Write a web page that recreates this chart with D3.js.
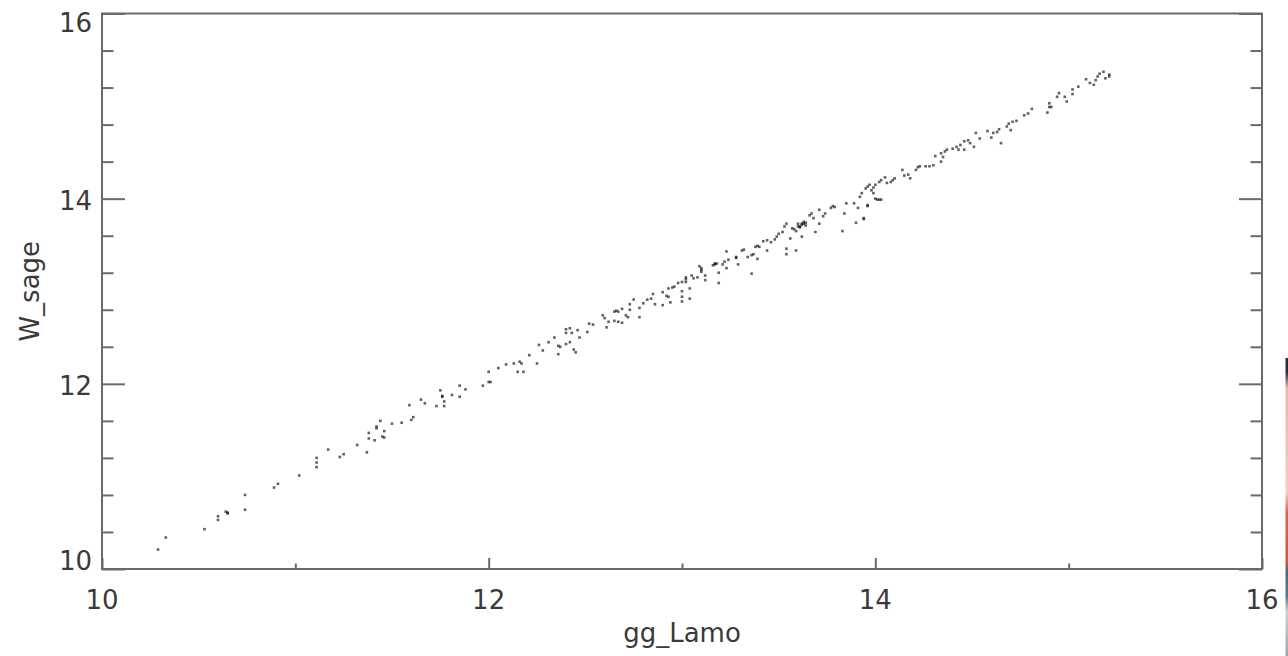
<!DOCTYPE html>
<html>
<head>
<meta charset="utf-8">
<script src="https://cdn.jsdelivr.net/npm/d3@7"></script>
<style>
  html, body { margin: 0; padding: 0; background: #fff; }
  svg { display: block; }
</style>
</head>
<body>
<script>
// values (gg_Lamo on x, W_sage on y)
const ggLamo = [
  10.29, 10.33, 10.53, 10.60, 10.60, 10.65, 10.65, 10.64, 10.74, 10.74,
  10.89, 10.91, 11.02, 11.11, 11.11, 11.11, 11.17, 11.23, 11.25, 11.32,
  11.37, 11.38, 11.38, 11.41, 11.42, 11.42, 11.44, 11.45, 11.46, 11.46,
  11.50, 11.55, 11.59, 11.60, 11.61, 11.65, 11.67, 11.73, 11.75, 11.76,
  11.76, 11.77, 11.77, 11.81, 11.85, 11.85, 11.88, 11.97, 12.00, 12.00,
  12.05, 12.09,
  12.01, 12.13, 12.16, 12.17, 12.15, 12.18, 12.21, 12.25, 12.26, 12.28,
  12.31, 12.34, 12.36, 12.36, 12.37, 12.40, 12.42, 12.40, 12.42, 12.40,
  12.43, 12.46, 12.44, 12.45, 12.47, 12.51, 12.52, 12.54, 12.59, 12.60,
  12.61, 12.62, 12.65, 12.65, 12.66, 12.67, 12.67, 12.69, 12.69, 12.71,
  12.72, 12.73, 12.73, 12.75, 12.78, 12.78, 12.80, 12.82, 12.84, 12.85,
  12.86, 12.90, 12.90, 12.92, 12.93, 12.93, 12.95, 12.96, 12.94, 12.98,
  13.00, 13.00, 13.00, 13.00, 13.02, 13.02, 13.02, 13.04, 13.04, 13.05,
  13.06, 13.08, 13.09, 13.10, 13.10, 13.10, 13.12, 13.12, 13.16, 13.17,
  13.18, 13.17, 13.19, 13.19, 13.21, 13.22, 13.24, 13.23, 13.23, 13.28,
  13.28, 13.29, 13.31, 13.32, 13.34, 13.36, 13.37, 13.36, 13.38, 13.39,
  13.40, 13.39, 13.42, 13.44, 13.44, 13.46, 13.48, 13.49, 13.50, 13.52,
  13.53, 13.54, 13.54, 13.54, 13.56, 13.57, 13.58, 13.59, 13.59, 13.60,
  13.61, 13.62, 13.63, 13.64, 13.62, 13.61, 13.62, 13.63, 13.64, 13.60,
  13.66, 13.67, 13.68, 13.69, 13.71, 13.71, 13.73, 13.74, 13.77, 13.78,
  13.79, 13.83, 13.84, 13.85, 13.89, 13.90, 13.91, 13.94, 13.96, 14.01,
  14.03,
  13.94, 13.92, 13.93, 13.95, 13.96, 13.97, 13.98, 13.99, 13.99, 14.00,
  13.96, 14.00, 14.02, 14.02, 14.03, 14.05, 14.06, 14.08, 14.09, 14.10,
  14.14, 14.15, 14.17, 14.18, 14.21, 14.22, 14.23, 14.26, 14.28, 14.30,
  14.31, 14.34, 14.34, 14.35, 14.36, 14.37, 14.40, 14.42, 14.43, 14.44,
  14.46, 14.46, 14.48, 14.49, 14.51, 14.52, 14.54, 14.58, 14.60, 14.61,
  14.63, 14.64, 14.65, 14.68, 14.69, 14.70, 14.71, 14.73, 14.77, 14.79,
  14.81, 14.89, 14.90, 14.90, 14.91, 14.94, 14.95, 14.98, 14.99, 15.02,
  15.02, 15.05, 15.09, 15.11, 15.13, 15.14, 15.15, 15.16, 15.18, 15.19,
  15.21, 15.21
];
const wSage = [
  10.21, 10.34, 10.43, 10.57, 10.53, 10.61, 10.60, 10.62, 10.80, 10.64,
  10.88, 10.92, 11.01, 11.20, 11.15, 11.10, 11.29, 11.21, 11.24, 11.34,
  11.26, 11.47, 11.41, 11.39, 11.52, 11.54, 11.60, 11.43, 11.42, 11.49,
  11.57, 11.58, 11.77, 11.61, 11.64, 11.83, 11.79, 11.76, 11.93, 11.87,
  11.86, 11.81, 11.76, 11.88, 11.86, 11.98, 11.94, 11.98, 12.02, 12.13,
  12.17, 12.21,
  12.02, 12.22, 12.24, 12.22, 12.13, 12.13, 12.31, 12.22, 12.42, 12.36,
  12.45, 12.50, 12.32, 12.41, 12.40, 12.43, 12.45, 12.59, 12.60, 12.55,
  12.55, 12.58, 12.37, 12.34, 12.50, 12.56, 12.65, 12.64, 12.74, 12.71,
  12.61, 12.67, 12.68, 12.78, 12.79, 12.78, 12.67, 12.66, 12.81, 12.74,
  12.72, 12.86, 12.80, 12.91, 12.82, 12.72, 12.87, 12.91, 12.92, 12.97,
  12.86, 12.85, 12.99, 12.95, 12.94, 13.03, 13.04, 13.05, 12.88, 13.09,
  13.10, 13.00, 12.94, 12.89, 13.15, 13.10, 13.13, 13.03, 12.92, 13.17,
  13.14, 13.15, 13.27, 13.23, 13.21, 13.25, 13.17, 13.12, 13.28, 13.29,
  13.30, 13.30, 13.20, 13.09, 13.29, 13.32, 13.34, 13.25, 13.43, 13.36,
  13.37, 13.29, 13.44, 13.45, 13.37, 13.39, 13.40, 13.19, 13.48, 13.49,
  13.48, 13.35, 13.54, 13.55, 13.44, 13.53, 13.56, 13.59, 13.62, 13.64,
  13.70, 13.73, 13.46, 13.40, 13.57, 13.68, 13.67, 13.65, 13.44, 13.73,
  13.70, 13.73, 13.75, 13.71, 13.59, 13.69, 13.72, 13.73, 13.74, 13.70,
  13.82, 13.84, 13.79, 13.64, 13.88, 13.73, 13.81, 13.84, 13.90, 13.92,
  13.91, 13.65, 13.84, 13.95, 13.95, 13.74, 13.90, 13.79, 13.92, 13.99,
  13.99,
  13.78, 14.02, 14.06, 14.11, 14.13, 14.15, 14.09, 14.12, 14.06, 14.15,
  13.93, 14.00, 13.99, 14.18, 14.20, 14.23, 14.17, 14.18, 14.20, 14.22,
  14.31, 14.25, 14.26, 14.22, 14.31, 14.34, 14.35, 14.35, 14.35, 14.36,
  14.46, 14.49, 14.40, 14.45, 14.51, 14.53, 14.54, 14.56, 14.53, 14.58,
  14.53, 14.62, 14.63, 14.60, 14.56, 14.71, 14.65, 14.73, 14.66, 14.71,
  14.72, 14.75, 14.60, 14.78, 14.81, 14.74, 14.83, 14.84, 14.90, 14.92,
  14.97, 14.93, 14.99, 15.03, 14.99, 15.10, 15.14, 15.10, 15.05, 15.18,
  15.13, 15.21, 15.29, 15.25, 15.23, 15.28, 15.32, 15.35, 15.37, 15.30,
  15.32, 15.34
];
const xMajor = [10, 12, 14, 16];
const xMinor = [11, 13, 15];
const yMajor = [10, 12, 14, 16];
const yMinor = [10.4, 10.8, 11.2, 11.6, 12.4, 12.8, 13.2, 13.6, 14.4, 14.8, 15.2, 15.6];
const xTitle = "gg_Lamo";
const yTitle = "W_sage";

const W = 1288, H = 656;
const plot = { left: 102, right: 1262, top: 13.5, bottom: 569 };
const font = "'DejaVu Sans', sans-serif";
const axisColor = "#6a6a6a";
const textColor = "#3a3a3a";

const svg = d3.select("body").append("svg")
  .attr("width", W).attr("height", H);

const x = d3.scaleLinear().domain([10, 16]).range([plot.left, plot.right]);
const y = d3.scaleLinear().domain([10, 16]).range([plot.bottom, plot.top]);

const points = d3.zip(ggLamo, wSage);

// scatter points
svg.append("g")
  .selectAll("rect")
  .data(points)
  .enter()
  .append("rect")
  .attr("x", (d) => x(d[0]) - 1.3)
  .attr("y", (d) => y(d[1]) - 1.3)
  .attr("width", 2.6)
  .attr("height", 2.6)
  .attr("fill", "#000")
  .attr("opacity", 0.62);

// inward ticks: bottom, left and right sides
const tickGroup = (axis, tx, ty) => {
  const g = svg.append("g").attr("transform", `translate(${tx},${ty})`).call(axis);
  g.select(".domain").remove();
  g.selectAll("text").remove();
  g.selectAll("line").attr("stroke", axisColor).attr("stroke-width", 2);
  return g;
};

tickGroup(d3.axisTop(x).tickValues(xMajor).tickSize(11), 0, plot.bottom);
tickGroup(d3.axisTop(x).tickValues(xMinor).tickSize(5.5), 0, plot.bottom);
tickGroup(d3.axisRight(y).tickValues(yMajor).tickSize(23), plot.left, 0);
tickGroup(d3.axisRight(y).tickValues(yMinor).tickSize(11.5), plot.left, 0);
tickGroup(d3.axisLeft(y).tickValues(yMajor).tickSize(23), plot.right, 0);
tickGroup(d3.axisLeft(y).tickValues(yMinor).tickSize(11.5), plot.right, 0);

// frame
svg.append("rect")
  .attr("x", plot.left).attr("y", plot.top)
  .attr("width", plot.right - plot.left).attr("height", plot.bottom - plot.top)
  .attr("fill", "none")
  .attr("stroke", axisColor)
  .attr("stroke-width", 2);

// tick labels
svg.append("g")
  .selectAll("text")
  .data(xMajor)
  .enter()
  .append("text")
  .attr("x", (d) => x(d))
  .attr("y", 609)
  .attr("text-anchor", "middle")
  .attr("font-family", font)
  .attr("font-size", 26)
  .attr("fill", textColor)
  .text((d) => d);

svg.append("g")
  .selectAll("text")
  .data(yMajor)
  .enter()
  .append("text")
  .attr("x", 92)
  .attr("y", (d) => Math.max(32, Math.min(570, y(d) + 11)))
  .attr("text-anchor", "end")
  .attr("font-family", font)
  .attr("font-size", 26)
  .attr("fill", textColor)
  .text((d) => d);

// axis titles
svg.append("text")
  .attr("x", (plot.left + plot.right) / 2)
  .attr("y", 642)
  .attr("text-anchor", "middle")
  .attr("font-family", font)
  .attr("font-size", 26)
  .attr("fill", textColor)
  .text(xTitle);

svg.append("text")
  .attr("transform", `translate(39,${(plot.top + plot.bottom) / 2}) rotate(-90)`)
  .attr("text-anchor", "middle")
  .attr("font-family", font)
  .attr("font-size", 26)
  .attr("fill", textColor)
  .text(yTitle);

// thin coloured strip cut off at the right edge of the picture
const grad = svg.append("defs").append("linearGradient")
  .attr("id", "edge").attr("x1", 0).attr("y1", 0).attr("x2", 0).attr("y2", 1);
[[0, "#1d2b3a"], [0.05, "#2b3340"], [0.1, "#e8b7a8"], [0.45, "#f1d0c4"],
 [0.52, "#e0604a"], [0.68, "#d9553e"], [0.72, "#3f6f7a"], [0.8, "#5b7a86"],
 [0.85, "#c9d2d6"], [1, "#9aa6ad"]].forEach(([o, c]) => {
  grad.append("stop").attr("offset", o).attr("stop-color", c);
});
svg.append("rect")
  .attr("x", 1285.5).attr("y", 358)
  .attr("width", 2.5).attr("height", H - 358)
  .attr("fill", "url(#edge)");
</script>
</body>
</html>
